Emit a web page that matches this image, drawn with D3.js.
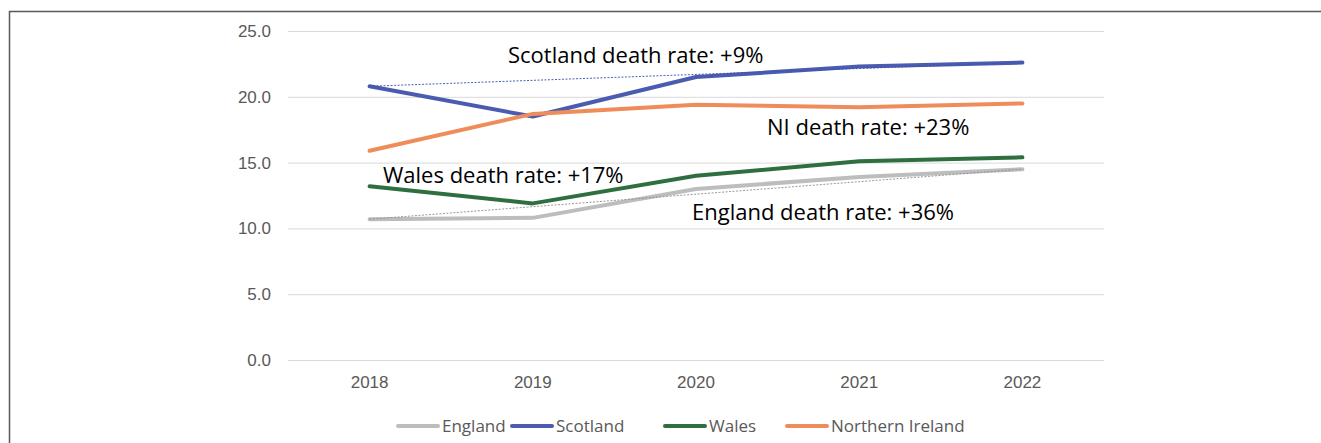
<!DOCTYPE html>
<html>
<head>
<meta charset="utf-8">
<script src="https://cdn.jsdelivr.net/npm/d3@7"></script>
<style>
  body { margin: 0; background: #fff; }
  svg { display: block; font-family: "Open Sans", "Noto Sans", sans-serif; }
  .grid line { stroke: #d9d9d9; stroke-width: 1; }
  .axis text { fill: #595959; font-size: 17px; }
  .note { fill: #000; font-size: 22px; }
  .legend text { fill: #595959; font-size: 17px; }
</style>
</head>
<body>
<script>
(function(){

    //chart data
    var years = ["2018", "2019", "2020", "2021", "2022"];
    var england = [10.7, 10.8, 13.0, 13.9, 14.5];
    var scotland = [20.8, 18.5, 21.5, 22.3, 22.6];
    var wales = [13.2, 11.9, 14.0, 15.1, 15.4];
    var northernIreland = [15.9, 18.7, 19.4, 19.2, 19.5];
    var yTicks = [0, 5, 10, 15, 20, 25];

    var seriesNames = ["England", "Scotland", "Wales", "Northern Ireland"];
    var seriesValues = [england, scotland, wales, northernIreland];
    var seriesColors = ["#bdbdbd", "#4a5bb0", "#2e6f40", "#ef8d5a"];

    //annotation labels
    var noteTexts = ["Scotland death rate: +9%", "NI death rate: +23%", "Wales death rate: +17%", "England death rate: +36%"];

    var width = 1321, height = 443;

    var svg = d3.select("body")
        .append("svg")
        .attr("width", width)
        .attr("height", height);

    //outer frame (only top and left visible)
    svg.append("path")
        .attr("d", "M9.5," + height + "V11.5H" + width)
        .attr("fill", "none")
        .attr("stroke", "#595959")
        .attr("stroke-width", 1.5);

    var x = d3.scaleBand()
        .domain(years)
        .range([288, 1104]);

    var y = d3.scaleLinear()
        .domain([0, 25])
        .range([360, 31]);

    //horizontal gridlines
    svg.append("g")
        .attr("class", "grid")
        .selectAll("line")
        .data(yTicks)
        .enter()
        .append("line")
        .attr("x1", 288)
        .attr("x2", 1104)
        .attr("y1", function(d){ return y(d) + 0.5; })
        .attr("y2", function(d){ return y(d) + 0.5; });

    //y axis labels
    var yAxis = d3.axisLeft(y)
        .tickValues(yTicks)
        .tickFormat(d3.format(".1f"))
        .tickSize(0)
        .tickPadding(0);

    svg.append("g")
        .attr("class", "axis")
        .attr("transform", "translate(271,0)")
        .call(yAxis)
        .call(function(g){ g.select(".domain").remove(); });

    //x axis labels
    var xAxis = d3.axisBottom(x)
        .tickSize(0)
        .tickPadding(16);

    svg.append("g")
        .attr("class", "axis")
        .attr("transform", "translate(0,360)")
        .call(xAxis)
        .call(function(g){ g.select(".domain").remove(); });

    var line = d3.line()
        .x(function(d, i){ return x(years[i]) + x.bandwidth() / 2; })
        .y(function(d){ return y(d); });

    //series lines
    svg.append("g")
        .selectAll("path")
        .data(seriesValues)
        .enter()
        .append("path")
        .attr("d", line)
        .attr("fill", "none")
        .attr("stroke", function(d, i){ return seriesColors[i]; })
        .attr("stroke-width", 4)
        .attr("stroke-linejoin", "round")
        .attr("stroke-linecap", "round");

    //dashed trend lines first to last year (Scotland and England)
    var trends = [[scotland, "#3a4fb0"], [england, "#8c8c8c"]];
    trends.forEach(function(t){
        var vals = t[0];
        svg.append("line")
            .attr("x1", x(years[0]) + x.bandwidth() / 2)
            .attr("y1", y(vals[0]))
            .attr("x2", x(years[years.length - 1]) + x.bandwidth() / 2)
            .attr("y2", y(vals[vals.length - 1]))
            .attr("stroke", t[1])
            .attr("stroke-width", 0.9)
            .attr("stroke-dasharray", "2,1.5");
    });

    //annotation text
    var notePos = [[508, 63], [767, 135], [383, 183], [692, 220]];
    svg.selectAll(".note")
        .data(noteTexts)
        .enter()
        .append("text")
        .attr("class", "note")
        .attr("x", function(d, i){ return notePos[i][0]; })
        .attr("y", function(d, i){ return notePos[i][1]; })
        .text(function(d){ return d; });

    //legend
    var legendX = [398, 512, 665, 787];
    var legend = svg.append("g")
        .attr("class", "legend")
        .selectAll("g")
        .data(seriesNames)
        .enter()
        .append("g")
        .attr("transform", function(d, i){ return "translate(" + legendX[i] + ",426)"; });

    legend.append("line")
        .attr("x1", 0)
        .attr("x2", 40)
        .attr("stroke", function(d, i){ return seriesColors[i]; })
        .attr("stroke-width", 4)
        .attr("stroke-linecap", "round");

    legend.append("text")
        .attr("x", 44)
        .attr("dy", "0.35em")
        .text(function(d){ return d; });
})();
</script>
</body>
</html>
